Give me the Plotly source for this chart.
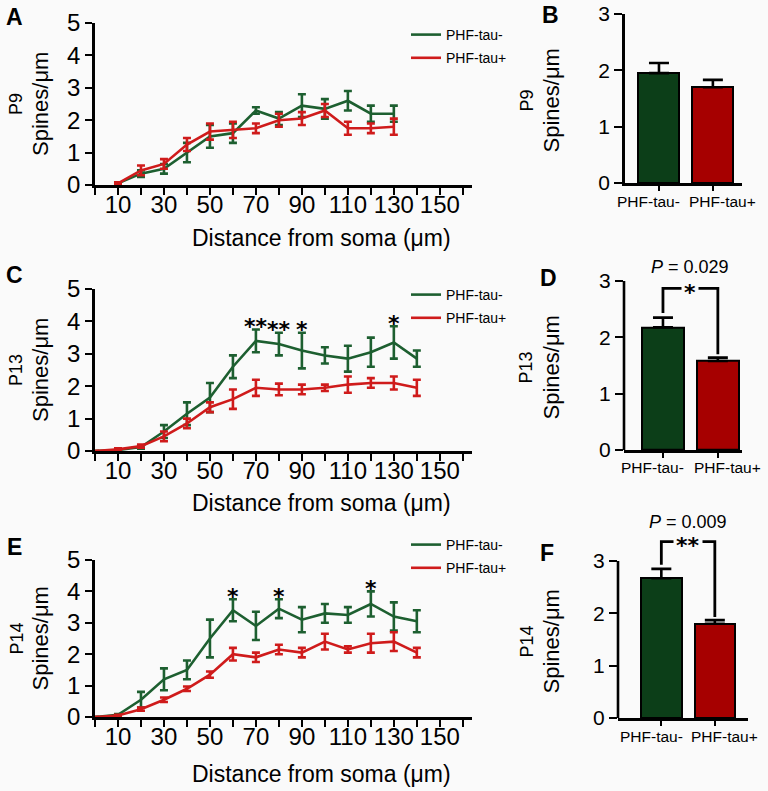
import plotly.graph_objects as go

W, H = 768, 791
FONT = "Liberation Sans, Arial, sans-serif"
STAR_FONT = "DejaVu Sans, sans-serif"
BG = "#fafafa"
GREEN_LINE = "#1d5f30"
RED_LINE = "#cf1b1b"
GREEN_BAR = "#0c3e18"
RED_BAR = "#a60000"

# ---------------- data ----------------
series_names = ["PHF-tau-", "PHF-tau+"]
dist_tick_values = list(range(0, 161, 10))
dist_tick_labels = ["", "10", "", "30", "", "50", "", "70", "", "90", "", "110", "", "130", "", "150", ""]
bar_tick_values = [0, 1, 2, 3]

# P9
dist_P9 = [10, 20, 30, 40, 50, 60, 70, 80, 90, 100, 110, 120, 130]
neg_P9 = [0.05, 0.35, 0.5, 1.0, 1.5, 1.6, 2.3, 2.05, 2.45, 2.35, 2.6, 2.2, 2.2]
neg_P9_err = [0.03, 0.1, 0.15, 0.3, 0.35, 0.3, 0.1, 0.2, 0.35, 0.3, 0.3, 0.25, 0.25]
pos_P9 = [0.05, 0.45, 0.65, 1.25, 1.65, 1.7, 1.75, 2.0, 2.05, 2.3, 1.75, 1.75, 1.8]
pos_P9_err = [0.03, 0.15, 0.15, 0.2, 0.25, 0.25, 0.15, 0.2, 0.2, 0.2, 0.2, 0.15, 0.25]

# P13
dist_P13 = [0, 10, 20, 30, 40, 50, 60, 70, 80, 90, 100, 110, 120, 130, 140]
neg_P13 = [0, 0.03, 0.12, 0.6, 1.15, 1.65, 2.6, 3.4, 3.3, 3.1, 2.95, 2.85, 3.05, 3.35, 2.85]
neg_P13_err = [0, 0.02, 0.05, 0.2, 0.35, 0.45, 0.35, 0.35, 0.35, 0.55, 0.25, 0.4, 0.45, 0.5, 0.25]
pos_P13 = [0, 0.05, 0.15, 0.45, 0.85, 1.35, 1.6, 1.95, 1.9, 1.9, 1.95, 2.05, 2.1, 2.1, 1.95]
pos_P13_err = [0, 0.03, 0.05, 0.15, 0.15, 0.15, 0.3, 0.25, 0.18, 0.15, 0.1, 0.25, 0.15, 0.2, 0.25]
sig_P13_dist = [70, 80, 90, 130]
sig_P13_marks = ["**", "**", "*", "*"]

# P14
dist_P14 = [0, 10, 20, 30, 40, 50, 60, 70, 80, 90, 100, 110, 120, 130, 140]
neg_P14 = [0, 0.07, 0.55, 1.2, 1.5, 2.5, 3.4, 2.9, 3.45, 3.1, 3.3, 3.25, 3.6, 3.2, 3.05]
neg_P14_err = [0, 0.02, 0.25, 0.35, 0.3, 0.6, 0.35, 0.45, 0.3, 0.4, 0.3, 0.25, 0.4, 0.45, 0.35]
pos_P14 = [0, 0.05, 0.25, 0.55, 0.9, 1.35, 2.0, 1.9, 2.15, 2.05, 2.4, 2.15, 2.35, 2.4, 2.05]
pos_P14_err = [0, 0.02, 0.05, 0.07, 0.07, 0.1, 0.2, 0.15, 0.15, 0.15, 0.25, 0.1, 0.3, 0.3, 0.15]
sig_P14_dist = [60, 80, 120]
sig_P14_marks = ["*", "*", "*"]

# bar summaries
bar_P9 = [1.95, 1.7]
bar_P9_err = [0.18, 0.13]
bar_P13 = [2.18, 1.58]
bar_P13_err = [0.17, 0.06]
bar_P13_p = "0.029"
bar_P13_mark = "*"
bar_P14 = [2.67, 1.8]
bar_P14_err = [0.18, 0.07]
bar_P14_p = "0.009"
bar_P14_mark = "**"


def fx(px):
    return px / W


def fy(py):
    return 1 - py / H


def paper_text(xp, yp, text, size, angle=0, bold=False):
    return dict(x=fx(xp), y=fy(yp), xref="paper", yref="paper", xanchor="center", yanchor="middle",
                text="<b>%s</b>" % text if bold else text, textangle=angle, showarrow=False,
                font=dict(family=FONT, size=size, color="black"))


fig = go.Figure()
annotations = []
shapes = []

line_panels = [
    dict(ax="", age="P9", d=dist_P9, n=neg_P9, ne=neg_P9_err, p=pos_P9, pe=pos_P9_err,
         sd=[], sm=[], ytop=23, ybot=185, legend="legend", letter="A", ly=17, title_y=238, leg_y=19),
    dict(ax="3", age="P13", d=dist_P13, n=neg_P13, ne=neg_P13_err, p=pos_P13, pe=pos_P13_err,
         sd=sig_P13_dist, sm=sig_P13_marks, ytop=289, ybot=451, legend="legend2", letter="C", ly=275, title_y=503, leg_y=279),
    dict(ax="5", age="P14", d=dist_P14, n=neg_P14, ne=neg_P14_err, p=pos_P14, pe=pos_P14_err,
         sd=sig_P14_dist, sm=sig_P14_marks, ytop=560, ybot=717, legend="legend3", letter="E", ly=547, title_y=774, leg_y=529),
]

XL, XR = 95, 472
for pn in line_panels:
    a = pn["ax"]
    xa = "x" + a
    ya = "y" + a
    for name, vals, errs, col, grp in [(series_names[0], pn["n"], pn["ne"], GREEN_LINE, "g"),
                                       (series_names[1], pn["p"], pn["pe"], RED_LINE, "r")]:
        fig.add_trace(go.Scatter(
            x=pn["d"], y=vals, mode="lines", name=name,
            line=dict(color=col, width=2.6),
            error_y=dict(type="data", array=errs, visible=True, color=col, thickness=2.6, width=4),
            xaxis=xa, yaxis=ya, legend=pn["legend"], legendgroup=pn["legend"] + grp,
            showlegend=True, hoverinfo="x+y",
        ))
    for d, m in zip(pn["sd"], pn["sm"]):
        i = pn["d"].index(d)
        annotations.append(dict(
            x=d, y=pn["n"][i] + pn["ne"][i] + 0.22, xref=xa, yref=ya, text="<b>%s</b>" % m,
            showarrow=False, xanchor="center", yanchor="middle", yshift=-4,
            font=dict(family=STAR_FONT, size=22, color="black")))
    yc = (pn["ytop"] + pn["ybot"]) / 2
    annotations.append(paper_text(40, yc, "Spines/μm", 22, angle=-90))
    annotations.append(paper_text(16, yc, pn["age"], 18, angle=-90))
    annotations.append(paper_text(321, pn["title_y"], "Distance from soma (μm)", 23))
    annotations.append(paper_text(14, pn["ly"], pn["letter"], 23, bold=True))

    axis_common = dict(showline=True, linecolor="black", linewidth=2.6, ticks="outside",
                       tickcolor="black", tickwidth=2.2, showgrid=False, zeroline=False,
                       tickfont=dict(family=FONT, size=24, color="black"))
    fig.update_layout(**{
        "xaxis" + a: dict(domain=[fx(XL), fx(XR)], range=[0, 164], anchor=ya, tickangle=0,
                          tickvals=dist_tick_values, ticktext=dist_tick_labels, ticklen=7,
                          ticklabelstandoff=-11, **axis_common),
        "yaxis" + a: dict(domain=[fy(pn["ybot"]), fy(pn["ytop"])], range=[0, 5], anchor=xa,
                          tickvals=[0, 1, 2, 3, 4, 5], ticklen=7, **axis_common),
        pn["legend"]: dict(x=fx(406), y=fy(pn["leg_y"]), xanchor="left", yanchor="top",
                           bgcolor="rgba(0,0,0,0)", traceorder="grouped", tracegroupgap=2,
                           font=dict(family=FONT, size=14, color="black")),
    })

bar_panels = [
    dict(ax="2", age="P9", v=bar_P9, e=bar_P9_err, pv=None, mark=None,
         xl=625, xr=742, ytop=14, ybot=183, rng=[-0.63, 1.54], letter="B", lx=550, ly=15, ymax=3),
    dict(ax="4", age="P13", v=bar_P13, e=bar_P13_err, pv=bar_P13_p, mark=bar_P13_mark,
         xl=624, xr=742, ytop=281, ybot=450, rng=[-0.71, 1.44], letter="D", lx=548, ly=278, ymax=3.45),
    dict(ax="6", age="P14", v=bar_P14, e=bar_P14_err, pv=bar_P14_p, mark=bar_P14_mark,
         xl=618, xr=748, ytop=561, ybot=718, rng=[-0.81, 1.62], letter="F", lx=547, ly=553, ymax=3.9),
]

for pn in bar_panels:
    a = pn["ax"]
    xa = "x" + a
    ya = "y" + a
    cats = [0, 1]
    fig.add_trace(go.Bar(
        x=cats, y=pn["v"], width=0.76, marker=dict(color=[GREEN_BAR, RED_BAR], line=dict(color="black", width=2)),
        error_y=dict(type="data", symmetric=False, array=pn["e"], arrayminus=[0, 0], color="black",
                     thickness=2.6, width=10),
        xaxis=xa, yaxis=ya, showlegend=False, hoverinfo="y",
    ))
    tops = [v + e for v, e in zip(pn["v"], pn["e"])]
    if pn["pv"] is not None:
        btop = max(tops) + 0.52
        fig.add_trace(go.Scatter(
            x=[cats[0], cats[0], cats[1], cats[1]],
            y=[tops[0] + 0.08, btop, btop, tops[1] + 0.06],
            mode="lines", line=dict(color="black", width=2.8), xaxis=xa, yaxis=ya,
            showlegend=False, hoverinfo="skip"))
        annotations.append(dict(x=0.5, y=btop, xref=xa, yref=ya, text="<b>%s</b>" % pn["mark"],
                                showarrow=False, xanchor="center", yanchor="middle", yshift=-4,
                                bgcolor=BG, borderpad=2,
                                font=dict(family=STAR_FONT, size=22, color="black")))
        annotations.append(dict(x=0.5, y=btop + 0.38, xref=xa, yref=ya, xanchor="center", yanchor="middle",
                                text="<i>P</i> = %s" % pn["pv"], showarrow=False,
                                font=dict(family=FONT, size=18, color="black")))
    for c, lab, sh in zip(cats, series_names, [-10, 10]):
        annotations.append(dict(x=c, y=0, xref=xa, yref=ya, text=lab, showarrow=False,
                                xanchor="center", yanchor="middle", yshift=-18, xshift=sh,
                                font=dict(family=FONT, size=15.5, color="black")))
    yc_px = (pn["ytop"] + pn["ybot"]) / 2
    annotations.append(paper_text(551, yc_px + 2, "Spines/μm", 22, angle=-90))
    annotations.append(paper_text(526, yc_px + 2, pn["age"], 18, angle=-90))
    annotations.append(paper_text(pn["lx"], pn["ly"], pn["letter"], 23, bold=True))
    unit = (pn["ybot"] - pn["ytop"]) / 3.0
    top_px = pn["ybot"] - unit * pn["ymax"]
    extended = pn["ymax"] > 3
    fig.update_layout(**{
        "xaxis" + a: dict(domain=[fx(pn["xl"]), fx(pn["xr"])], range=pn["rng"], anchor=ya,
                          tickvals=cats, showticklabels=False, showline=True, linecolor="black",
                          linewidth=2.6, ticks="outside", ticklen=5, tickwidth=2.2, tickcolor="black",
                          showgrid=False, zeroline=False),
        "yaxis" + a: dict(domain=[fy(pn["ybot"]), fy(top_px)], range=[0, pn["ymax"]], anchor=xa,
                          tickvals=bar_tick_values, showline=not extended, linecolor="black",
                          linewidth=2.6, ticks="outside", ticklen=8, tickwidth=2.2, tickcolor="black",
                          showgrid=False, zeroline=False,
                          tickfont=dict(family=FONT, size=21, color="black")),
    })
    if extended:
        shapes.append(dict(type="line", xref=xa + " domain", yref=ya, x0=0, x1=0, y0=0, y1=3,
                           line=dict(color="black", width=2.6), layer="above"))

fig.update_layout(
    width=W, height=H, margin=dict(l=0, r=0, t=0, b=0, pad=0, autoexpand=False),
    paper_bgcolor=BG, plot_bgcolor=BG,
    annotations=annotations, shapes=shapes,
    font=dict(family=FONT, color="black"),
    bargap=0,
)

fig.write_html("out.html", config={"displayModeBar": False},
               post_script="document.body.style.margin='0';document.body.style.background='%s';" % BG)
